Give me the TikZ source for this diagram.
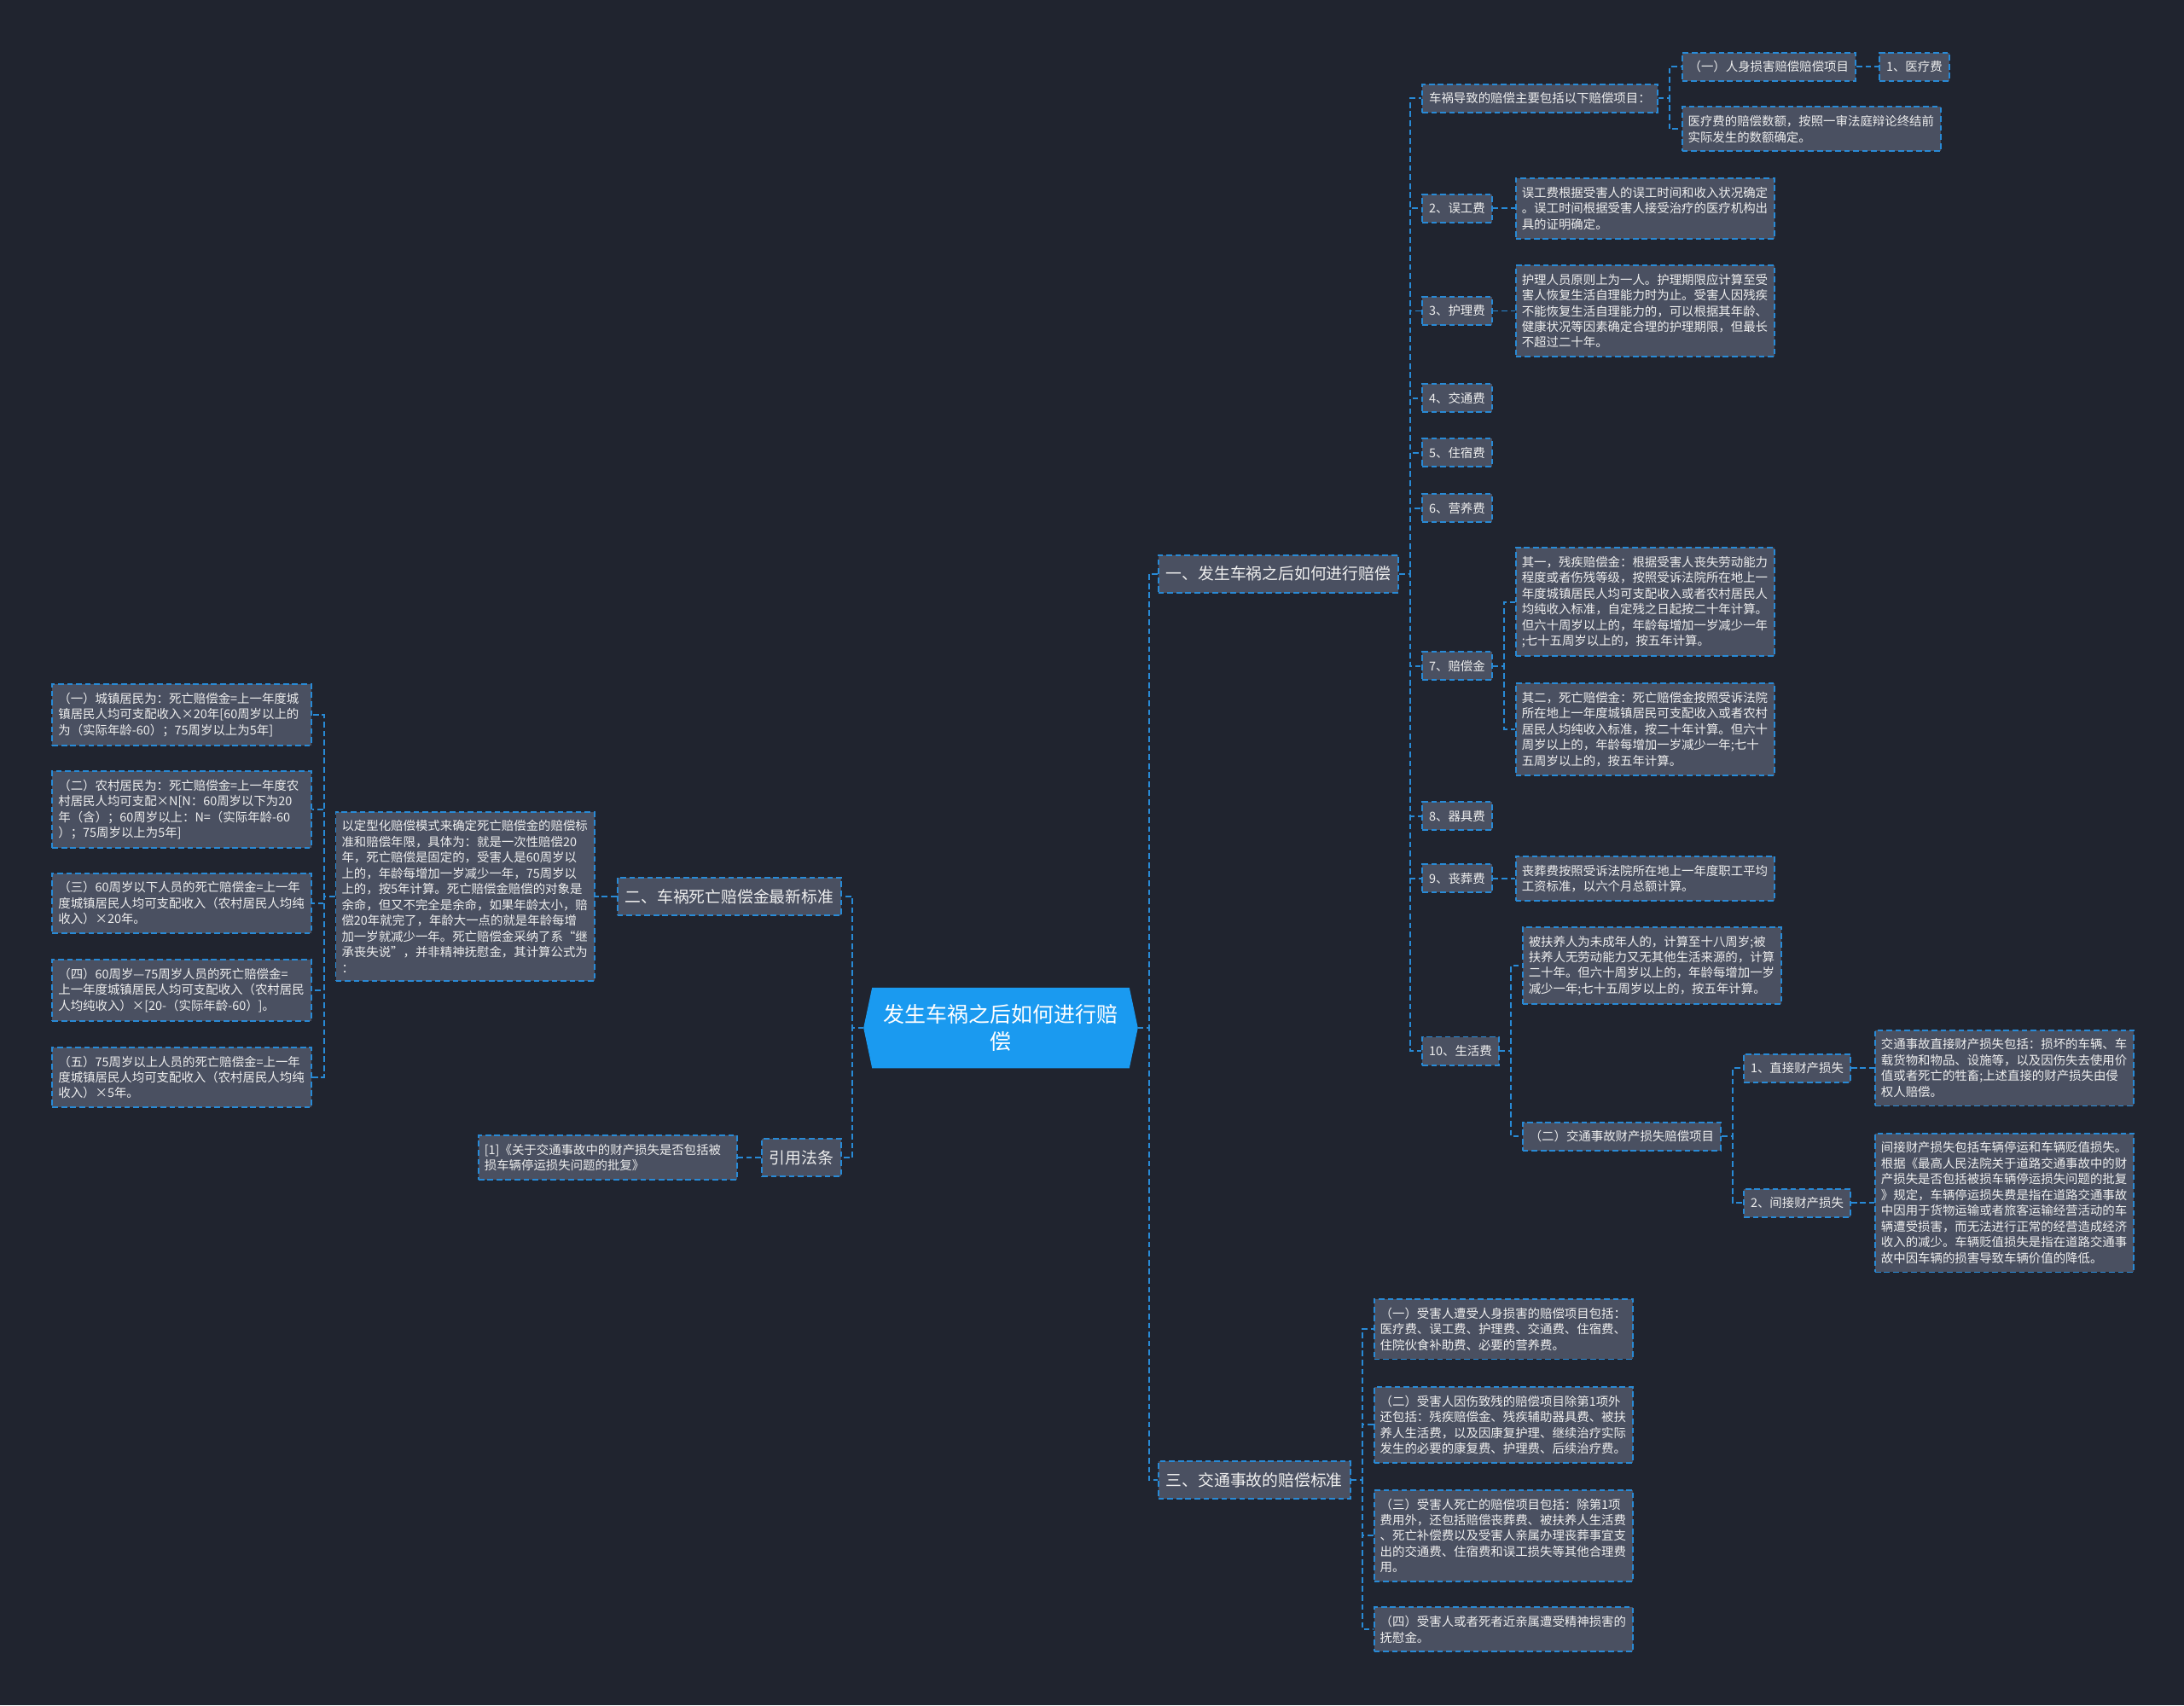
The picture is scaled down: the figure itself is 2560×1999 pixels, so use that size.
\documentclass[tikz,border=0pt]{standalone}
\usepackage{fontspec}
\setmainfont{Noto Sans CJK SC}
\usepackage{tikz}
\usetikzlibrary{positioning}

\definecolor{bgcol}{RGB}{32,36,47}
\definecolor{boxcol}{RGB}{74,80,97}
\definecolor{linecol}{RGB}{40,138,214}
\definecolor{rootcol}{RGB}{26,154,240}
\definecolor{txtcol}{RGB}{238,238,238}

\tikzset{
  dashline/.style={draw=linecol, line width=0.55pt, dash pattern=on 1.9pt off 1.1pt},
  item/.style={dashline, fill=boxcol, text=txtcol, font=\fontsize{4.1pt}{5.25pt}\selectfont, minimum height=0.33cm, inner xsep=0.08cm, inner ysep=0.05cm},
  note/.style={item, text width=2.89cm, align=left, inner xsep=0.07cm, inner ysep=0.1cm},
  branch/.style={item, font=\fontsize{5.35pt}{6.5pt}\selectfont, minimum height=0.44cm, inner xsep=0.09cm},
  rootbox/.style={text=white, font=\fontsize{7.1pt}{9.1pt}\selectfont, minimum width=3.2cm, minimum height=0.93cm, align=center, inner sep=0},
  link/.style={dashline}
}

\begin{document}
\begin{tikzpicture}[x=0.01cm, y=-0.01cm]
    \fill[bgcol] (0,0) rectangle (2560,1999);
    \useasboundingbox (0,0) rectangle (2560,1999);

    % centre
    \node[rootbox] (root) at (1173,1205) {};
    \fill[rootcol] (root.west) -- ([xshift=0.1cm]root.north west) -- ([xshift=-0.1cm]root.north east) -- (root.east)
      -- ([xshift=-0.1cm]root.south east) -- ([xshift=0.1cm]root.south west) -- cycle;
    \node[rootbox] (rootlabel) at (root) {发生车祸之后如何进行赔\\偿};

    % main branches
    \node[branch, right=0.23cm of root, yshift=5.32cm] (N1) {一、发生车祸之后如何进行赔偿};
    \node[branch, right=0.23cm of root, yshift=-5.30cm] (N3) {三、交通事故的赔偿标准};
    \node[branch, left=0.25cm of root, yshift=1.54cm] (N2) {二、车祸死亡赔偿金最新标准};
    \node[branch, left=0.25cm of root, yshift=-1.52cm] (law) {引用法条};

    % branch one
    \node[item, right=0.26cm of N1, yshift=5.57cm] (A) {车祸导致的赔偿主要包括以下赔偿项目：};
    \node[item, right=0.27cm of A, yshift=0.37cm] (A1) {（一）人身损害赔偿赔偿项目};
    \node[item, right=0.26cm of A1] (A1a) {1、医疗费};
    \node[note, right=0.27cm of A, yshift=-0.36cm] (A2) {医疗费的赔偿数额，按照一审法庭辩论终结前\\实际发生的数额确定。};

    \node[item, right=0.26cm of N1, yshift=4.28cm] (B) {2、误工费};
    \node[note, right=0.26cm of B] (B1) {误工费根据受害人的误工时间和收入状况确定\\。误工时间根据受害人接受治疗的医疗机构出\\具的证明确定。};

    \node[item, right=0.26cm of N1, yshift=3.08cm] (C) {3、护理费};
    \node[note, right=0.26cm of C] (C1) {护理人员原则上为一人。护理期限应计算至受\\害人恢复生活自理能力时为止。受害人因残疾\\不能恢复生活自理能力的，可以根据其年龄、\\健康状况等因素确定合理的护理期限，但最长\\不超过二十年。};

    \node[item, right=0.26cm of N1, yshift=2.06cm] (D) {4、交通费};
    \node[item, right=0.26cm of N1, yshift=1.42cm] (E) {5、住宿费};
    \node[item, right=0.26cm of N1, yshift=0.77cm] (F) {6、营养费};

    \node[item, right=0.26cm of N1, yshift=-1.08cm] (G) {7、赔偿金};
    \node[note, right=0.26cm of G, yshift=0.75cm] (G1) {其一，残疾赔偿金：根据受害人丧失劳动能力\\程度或者伤残等级，按照受诉法院所在地上一\\年度城镇居民人均可支配收入或者农村居民人\\均纯收入标准，自定残之日起按二十年计算。\\但六十周岁以上的，年龄每增加一岁减少一年\\;七十五周岁以上的，按五年计算。};
    \node[note, right=0.26cm of G, yshift=-0.74cm] (G2) {其二，死亡赔偿金：死亡赔偿金按照受诉法院\\所在地上一年度城镇居民可支配收入或者农村\\居民人均纯收入标准，按二十年计算。但六十\\周岁以上的，年龄每增加一岁减少一年;七十\\五周岁以上的，按五年计算。};

    \node[item, right=0.26cm of N1, yshift=-2.84cm] (H) {8、器具费};
    \node[item, right=0.26cm of N1, yshift=-3.57cm] (I) {9、丧葬费};
    \node[note, right=0.26cm of I] (I1) {丧葬费按照受诉法院所在地上一年度职工平均\\工资标准，以六个月总额计算。};

    \node[item, right=0.26cm of N1, yshift=-5.59cm] (J) {10、生活费};
    \node[note, right=0.26cm of J, yshift=1.00cm] (J1) {被扶养人为未成年人的，计算至十八周岁;被\\扶养人无劳动能力又无其他生活来源的，计算\\二十年。但六十周岁以上的，年龄每增加一岁\\减少一年;七十五周岁以上的，按五年计算。};
    \node[item, right=0.26cm of J, yshift=-1.00cm] (J2) {（二）交通事故财产损失赔偿项目};
    \node[item, right=0.25cm of J2, yshift=0.80cm] (J2a) {1、直接财产损失};
    \node[note, right=0.27cm of J2a] (J2a1) {交通事故直接财产损失包括：损坏的车辆、车\\载货物和物品、设施等，以及因伤失去使用价\\值或者死亡的牲畜;上述直接的财产损失由侵\\权人赔偿。};
    \node[item, right=0.25cm of J2, yshift=-0.78cm] (J2b) {2、间接财产损失};
    \node[note, right=0.27cm of J2b] (J2b1) {间接财产损失包括车辆停运和车辆贬值损失。\\根据《最高人民法院关于道路交通事故中的财\\产损失是否包括被损车辆停运损失问题的批复\\》规定，车辆停运损失费是指在道路交通事故\\中因用于货物运输或者旅客运输经营活动的车\\辆遭受损害，而无法进行正常的经营造成经济\\收入的减少。车辆贬值损失是指在道路交通事\\故中因车辆的损害导致车辆价值的降低。};

    % branch three
    \node[note, right=0.26cm of N3, yshift=1.77cm] (K1) {（一）受害人遭受人身损害的赔偿项目包括：\\医疗费、误工费、护理费、交通费、住宿费、\\住院伙食补助费、必要的营养费。};
    \node[note, right=0.26cm of N3, yshift=0.65cm] (K2) {（二）受害人因伤致残的赔偿项目除第1项外\\还包括：残疾赔偿金、残疾辅助器具费、被扶\\养人生活费，以及因康复护理、继续治疗实际\\发生的必要的康复费、护理费、后续治疗费。};
    \node[note, right=0.26cm of N3, yshift=-0.65cm] (K3) {（三）受害人死亡的赔偿项目包括：除第1项\\费用外，还包括赔偿丧葬费、被扶养人生活费\\、死亡补偿费以及受害人亲属办理丧葬事宜支\\出的交通费、住宿费和误工损失等其他合理费\\用。};
    \node[note, right=0.26cm of N3, yshift=-1.75cm] (K4) {（四）受害人或者死者近亲属遭受精神损害的\\抚慰金。};

    % branch two
    \node[note, left=0.25cm of N2] (L) {以定型化赔偿模式来确定死亡赔偿金的赔偿标\\准和赔偿年限，具体为：就是一次性赔偿20\\年，死亡赔偿是固定的，受害人是60周岁以\\上的，年龄每增加一岁减少一年，75周岁以\\上的，按5年计算。死亡赔偿金赔偿的对象是\\余命，但又不完全是余命，如果年龄太小，赔\\偿20年就完了，年龄大一点的就是年龄每增\\加一岁就减少一年。死亡赔偿金采纳了系“继\\承丧失说”，并非精神抚慰金，其计算公式为\\：};
    \node[note, left=0.27cm of L, yshift=2.13cm] (M1) {（一）城镇居民为：死亡赔偿金=上一年度城\\镇居民人均可支配收入×20年[60周岁以上的\\为（实际年龄-60）；75周岁以上为5年]};
    \node[note, left=0.27cm of L, yshift=1.02cm] (M2) {（二）农村居民为：死亡赔偿金=上一年度农\\村居民人均可支配×N[N：60周岁以下为20\\年（含）；60周岁以上：N=（实际年龄-60\\）；75周岁以上为5年]};
    \node[note, left=0.27cm of L, yshift=-0.08cm] (M3) {（三）60周岁以下人员的死亡赔偿金=上一年\\度城镇居民人均可支配收入（农村居民人均纯\\收入）×20年。};
    \node[note, left=0.27cm of L, yshift=-1.10cm] (M4) {（四）60周岁—75周岁人员的死亡赔偿金=\\上一年度城镇居民人均可支配收入（农村居民\\人均纯收入）×[20-（实际年龄-60）]。};
    \node[note, left=0.27cm of L, yshift=-2.12cm] (M5) {（五）75周岁以上人员的死亡赔偿金=上一年\\度城镇居民人均可支配收入（农村居民人均纯\\收入）×5年。};

    % cited law
    \node[note, left=0.27cm of law] (R) {[1]《关于交通事故中的财产损失是否包括被\\损车辆停运损失问题的批复》};

    % connectors
    \foreach \p/\c in {root/N1, root/N3, N1/A, N1/B, N1/C, N1/D, N1/E, N1/F, N1/G, N1/H, N1/I, N1/J,
        A/A1, A/A2, A1/A1a, B/B1, C/C1, G/G1, G/G2, I/I1, J/J1, J/J2, J2/J2a, J2/J2b, J2a/J2a1, J2b/J2b1,
        N3/K1, N3/K2, N3/K3, N3/K4}
      \draw[link] (\p.east) -- ++(0.13cm,0) |- (\c.west);
    \foreach \p/\c in {root/N2, root/law, N2/L, L/M1, L/M2, L/M3, L/M4, L/M5, law/R}
      \draw[link] (\p.west) -- ++(-0.13cm,0) |- (\c.east);
\end{tikzpicture}
\end{document}
